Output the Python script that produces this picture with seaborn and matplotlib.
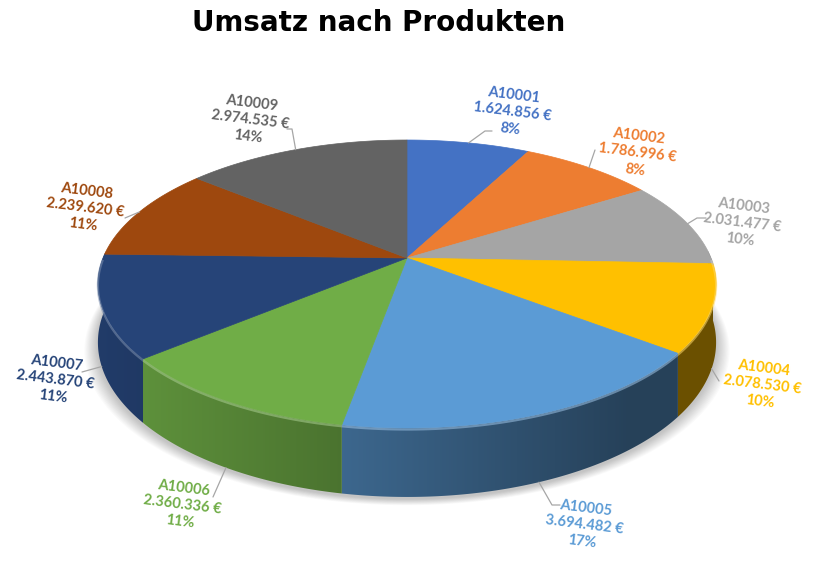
import numpy as np
import pandas as pd
import matplotlib
matplotlib.use("Agg")
import matplotlib.pyplot as plt
from matplotlib.patches import Polygon
import matplotlib.colors as mcolors
import seaborn as sns

# ---------------- data ----------------
title = "Umsatz nach Produkten"
products = ["A10001", "A10002", "A10003", "A10004", "A10005",
            "A10006", "A10007", "A10008", "A10009"]
sales = [1624856, 1786996, 2031477, 2078530, 3694482,
         2360336, 2443870, 2239620, 2974535]
colors = ["#4472C4", "#ED7D31", "#A5A5A5", "#FFC000", "#5B9BD5",
          "#70AD47", "#264478", "#9E480E", "#636363"]

# ---------------- layout (pixels) ----------------
label_pos = [(512, 112), (637, 153), (742, 223), (762, 385), (584, 525),
             (182, 505), (55, 380), (85, 208), (250, 120)]
leader_end = [(485, 131), (595, 150), (697, 218), (719, 381), (552, 505),
              (213, 497), (82, 372), (125, 218), (292, 129)]
leader_tail = [7, 0, 9, 0, 8, 0, 0, 0, -5]

sns.set_theme(style="white")
plt.rcParams['font.family'] = ['Lato', 'DejaVu Sans']

df = pd.DataFrame({"product": products, "sales": sales, "color": colors})
total = df["sales"].sum()
df["frac"] = df["sales"] / total

# percentages rounded so that they add up to 100 (as the spreadsheet does)
raw = df["frac"].values * 100
pct = np.floor(raw).astype(int)
rest = 100 - pct.sum()
for j in np.argsort(-(raw - np.floor(raw)))[:rest]:
    pct[j] += 1
df["pct"] = pct

edges = np.concatenate([[0.0], np.cumsum(df["frac"].values)]) * 360.0

fig = plt.figure(figsize=(8.22, 5.72), dpi=100)
ax = fig.add_axes([0, 0, 1, 1])
ax.set_xlim(0, 822)
ax.set_ylim(572, 0)
ax.axis("off")

# perspective pie geometry
CX, CY, A, B, K, D = 407.0, 258.0, 304.0, 139.3, 0.1806, 56.5


def proj(theta_deg, drop=0.0):
    t = np.radians(theta_deg)
    u = np.sin(t)
    v = np.cos(t)
    s = 1.0 / (1.0 + K * v)
    return CX + A * u * s, CY - B * v * s + D * s * drop


# soft shadow below the pie
full = np.linspace(0, 360, 361)
bx, by = proj(full, 1.0)
for e in np.linspace(1, 14, 12):
    sx = CX + (bx - CX) * (1 + e / 320.0)
    sy = by + e * 0.45 + 2
    ax.add_patch(Polygon(np.column_stack([sx, sy]), closed=True,
                         facecolor="#000000", edgecolor="none",
                         alpha=0.018, zorder=1))

# side walls with horizontal shading gradient
xg = np.linspace(80, 740, 400)
shade = np.clip(0.61 - 0.26 * (xg - CX) / A, 0.42, 0.9)
for i, row in df.iterrows():
    t0, t1 = edges[i], edges[i + 1]
    ts = np.linspace(t0, t1, 300)
    ts = ts[np.cos(np.radians(ts)) < 0.05]
    if len(ts) < 2:
        continue
    xt, yt = proj(ts)
    xb, yb = proj(ts, 1.0)
    poly = np.column_stack([np.concatenate([xt, xb[::-1]]),
                            np.concatenate([yt, yb[::-1]])])
    patch = Polygon(poly, closed=True, facecolor="none", edgecolor="none",
                    zorder=2)
    ax.add_patch(patch)
    base = np.array(mcolors.to_rgb(row["color"]))
    img = (shade[:, None] * base[None, :])[None, :, :]
    im = ax.imshow(img, extent=(xg[0], xg[-1], 520, 240), aspect="auto",
                   interpolation="bilinear", zorder=2)
    im.set_clip_path(patch)
ax.set_xlim(0, 822)
ax.set_ylim(572, 0)

# top face
for i, row in df.iterrows():
    ts = np.linspace(edges[i], edges[i + 1], 200)
    xs, ys = proj(ts)
    pts = np.column_stack([np.concatenate([[CX], xs]), np.concatenate([[CY], ys])])
    ax.add_patch(Polygon(pts, closed=True, facecolor=row["color"],
                         edgecolor=row["color"], linewidth=0.5, zorder=3))

# light bevel along front rim
for i, row in df.iterrows():
    ts = np.linspace(edges[i], edges[i + 1], 120)
    ts = ts[np.cos(np.radians(ts)) < 0]
    if len(ts) < 2:
        continue
    xs, ys = proj(ts)
    light = tuple(np.array(mcolors.to_rgb(row["color"])) * 0.6 + 0.4)
    ax.plot(xs, ys + 1.5, color=light, lw=1.6, alpha=0.55, zorder=4,
            solid_capstyle="butt")

# labels and leader lines
for i, row in df.iterrows():
    mid = 0.5 * (edges[i] + edges[i + 1])
    drop = 1.0 if np.cos(np.radians(mid)) < -0.2 else 0.0
    sx, sy = proj(mid, drop)
    ex, ey = leader_end[i]
    xs = [sx, ex]
    ys = [sy, ey]
    if leader_tail[i] != 0:
        xs.append(ex + leader_tail[i])
        ys.append(ey)
    ax.plot(xs, ys, color="#A6A6A6", lw=0.9, zorder=5)
    money = f"{row['sales']:,}".replace(",", ".") + " €"
    lx, ly = label_pos[i]
    ax.text(lx, ly, f"{row['product']}\n{money}\n{row['pct']}%",
            color=row["color"], fontsize=10.5, fontweight="bold",
            ha="center", va="center", multialignment="center", rotation=-7,
            rotation_mode="anchor", linespacing=1.3, zorder=6)

fig.text(379 / 822, 1 - 23 / 572, title, ha="center", va="center",
         fontsize=20, fontweight="bold", family=["DejaVu Sans"], color="black")

fig.savefig("out.png", dpi=100)
